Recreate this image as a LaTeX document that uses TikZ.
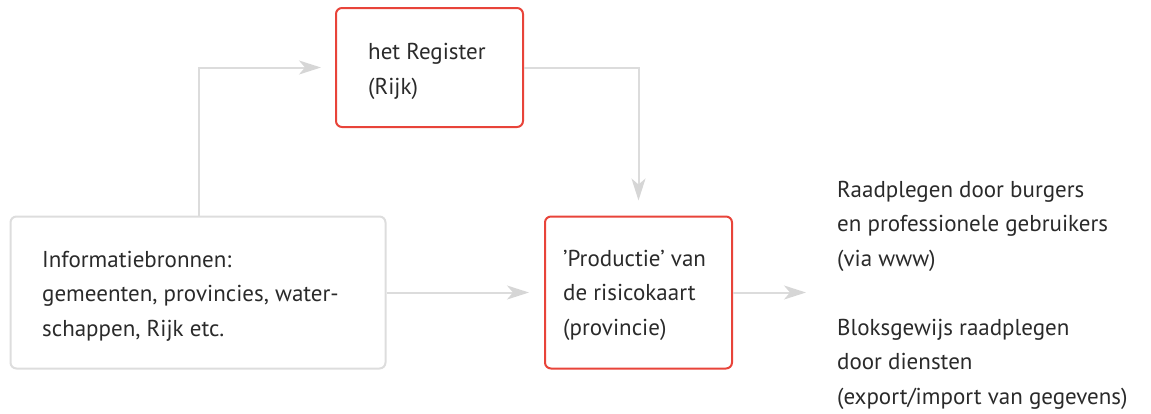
\documentclass[tikz,border=0pt]{standalone}
\usepackage{fontspec}
\setmainfont{PT Sans}
\usetikzlibrary{arrows.meta,calc}
\definecolor{boxred}{HTML}{E8443A}
\definecolor{boxgray}{HTML}{DDDDDD}
\definecolor{linkgray}{HTML}{DCDCDC}
\definecolor{tipgray}{HTML}{D6D6D6}
\definecolor{ink}{HTML}{2A2A2A}
\begin{document}
\begin{tikzpicture}[x=1pt,y=-1pt,
  redbox/.style={draw=boxred,line width=2pt,rounded corners=6pt,inner sep=0pt},
  graybox/.style={draw=boxgray,line width=2pt,rounded corners=6pt,inner sep=0pt},
  % placed by the baseline of the last line
  label/.style={anchor=base west,inner sep=0pt,text=ink,align=left,
    font=\fontsize{23}{34.5}\selectfont},
  conn/.style={draw=linkgray,line width=2pt,
    -{Stealth[length=22pt,width=14pt,inset=6pt,color=tipgray]}}]
\useasboundingbox (0,0) rectangle (1151,413);
% boxes
\node[redbox,minimum width=187pt,minimum height=119pt] (reg) at (429.5,67.5) {};
\node[graybox,minimum width=375pt,minimum height=152pt] (info) at (198,292.5) {};
\node[redbox,minimum width=187pt,minimum height=152pt] (prod) at (638.5,292.5) {};
% texts
\node[label] (regtxt) at (368,94) {het Register\\(Rijk)};
\node[label] (infotxt) at (42,336) {Informatiebronnen:\\gemeenten, provincies, water-\\schappen, Rijk etc.};
\node[label] (prodtxt) at (563,335) {'Productie' van\\de risicokaart\\(provincie)};
\node[label] (usetxt) at (837,266) {Raadplegen door burgers\\en professionele gebruikers\\(via www)};
\node[label] (bulktxt) at (837,404) {Bloksgewijs raadplegen\\door diensten\\(export/import van gegevens)};
% connectors
\coordinate (split) at (199,0);
\coordinate (out) at (806,292.5);
\draw[conn,shorten >=14pt] (info.north -| split) |- (reg.west);
\draw[conn,shorten >=15pt] (reg.east) -| (prod.north);
\draw[conn,shorten >=15pt] (info.east) -- (prod.west);
\draw[conn] (prod.east) -- (out);
\end{tikzpicture}
\end{document}
